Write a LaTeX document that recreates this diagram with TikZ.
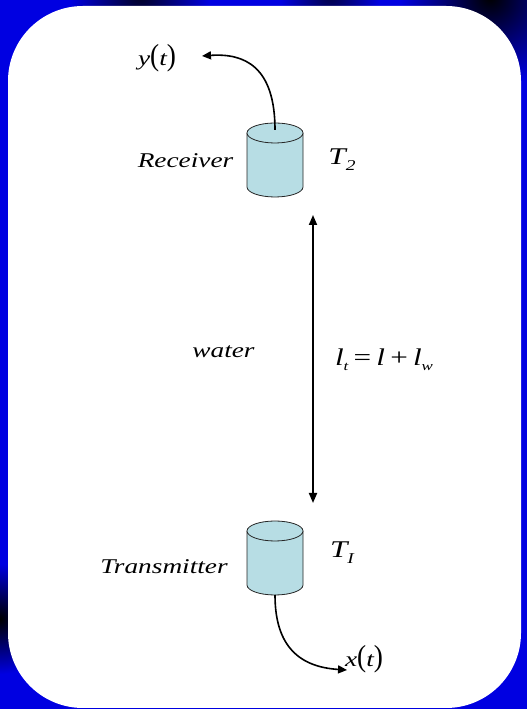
\documentclass[tikz,border=0pt]{standalone}
\usepackage{graphicx}
\usepackage{fontspec}
\setmainfont{Liberation Serif}[ItalicFont={Liberation Serif Italic}]
\newfontfamily\timesit{Liberation Serif Italic}
\newfontfamily\timesrm{Liberation Serif}
\usetikzlibrary{arrows.meta}
\definecolor{bgblue}{RGB}{0,0,225}
\definecolor{cylfill}{RGB}{183,221,228}
\newcommand\hstretch[1]{\scalebox{1.3}[1]{#1}}
\newcommand\bigpar[1]{\scalebox{1}[1.45]{\timesrm #1}}
\tikzset{
  lbl/.style={font=\fontsize{21}{24}\selectfont\timesit, inner sep=0pt, anchor=base},
  cyl/.style={draw=black!85, fill=cylfill, line width=0.8pt},
  sig/.style={line width=1.6pt, -{Triangle[length=9pt,width=8pt]}},
  dist/.style={line width=1.8pt, {Triangle[length=10pt,width=8pt]}-{Triangle[length=10pt,width=8pt]}}
}
\begin{document}
\begin{tikzpicture}[x=1pt,y=1pt]
\useasboundingbox (0,0) rectangle (527,709);
% background
\fill[bgblue] (0,0) rectangle (527,709);
\shade[inner color=black, outer color=bgblue] (490,712) circle (90);
\shade[inner color=black!85!bgblue, outer color=bgblue] (140,714) circle (70);
\shade[inner color=black!70!bgblue, outer color=bgblue] (330,714) circle (50);
\shade[inner color=black, outer color=bgblue] (0,90) circle (55);
\fill[white, rounded corners=75pt] (8,1) rectangle (521,703);

% receiver cylinder
\filldraw[cyl] (247,576) -- (247,522) arc[start angle=180, end angle=360, x radius=28, y radius=10] -- (303,576);
\filldraw[cyl] (275,576) ellipse[x radius=28, y radius=10];
% transmitter cylinder
\filldraw[cyl] (247,178) -- (247,124) arc[start angle=180, end angle=360, x radius=28, y radius=10] -- (303,178);
\filldraw[cyl] (275,178) ellipse[x radius=28, y radius=10];

\coordinate (rxout) at (275,579);
\coordinate (txout) at (275,114);
\coordinate (ytip) at (202,653);
\coordinate (xtip) at (347,39);
\coordinate (dtop) at (313,494);
\coordinate (dbot) at (313,206);

% labels
\node[lbl] (rx) at (185.5,541) {\hstretch{Receiver}};
\node[lbl] (tx) at (164,135) {\hstretch{Transmitter}};
\node[lbl] (water) at (223.5,351) {\hstretch{water}};
\node[lbl] (t2) at (342,544) {\hstretch{\fontsize{24}{26}\selectfont T\raisebox{-6pt}{\fontsize{15}{16}\selectfont 2}}};
\node[lbl] (t1) at (342,151) {\hstretch{\fontsize{24}{26}\selectfont T\raisebox{-6pt}{\fontsize{15}{16}\selectfont I}}};
\node[lbl] (yt) at (157,643) {\hstretch{y\bigpar{(}t\bigpar{)}}};
\node[lbl] (xt) at (364,42) {\hstretch{x\bigpar{(}t\bigpar{)}}};
\node[lbl] (eq) at (384,343) {\hstretch{\fontsize{24}{26}\selectfont l\raisebox{-5pt}{\fontsize{13}{14}\selectfont t}\,{\timesrm =}\,l\,{\timesrm +}\,l\raisebox{-5pt}{\fontsize{13}{14}\selectfont w}}};

% connectors
\draw[sig] (rxout) .. controls (275,642) and (245,656) .. (ytip);
\draw[sig] (txout) .. controls (275,62) and (300,42) .. (xtip);
\draw[dist] (dtop) -- (dbot);
\end{tikzpicture}
\end{document}
